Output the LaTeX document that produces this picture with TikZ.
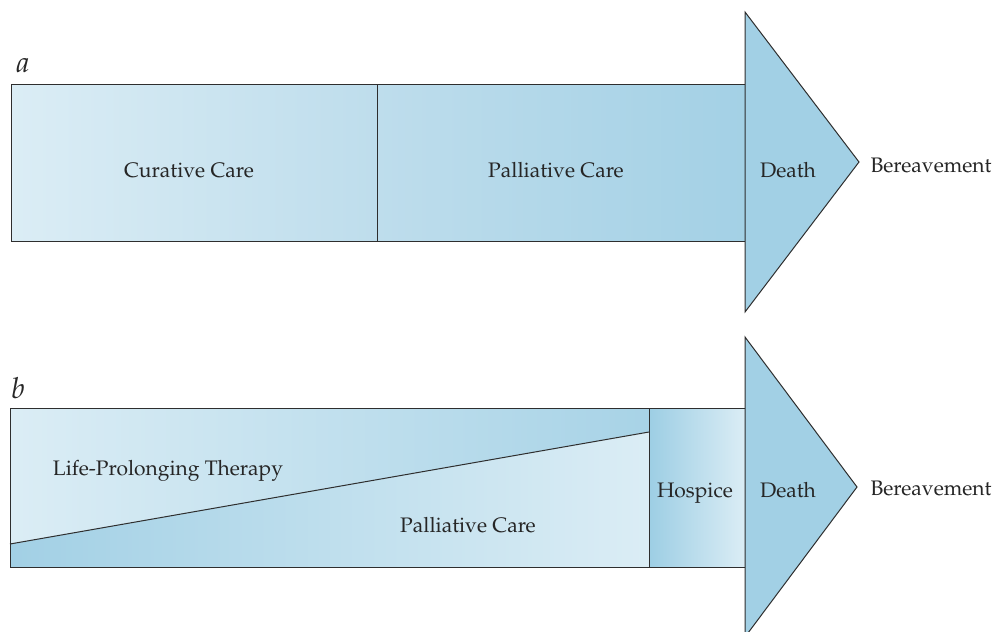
\documentclass[tikz,border=0pt]{standalone}
\usepackage[T1]{fontenc}
\usepackage{mathpazo}
\definecolor{edge}{HTML}{2E2E2E}
\definecolor{paleblue}{HTML}{DBEDF5}
\definecolor{midblue}{HTML}{BEDDEC}
\definecolor{deepblue}{HTML}{A2D0E5}
\definecolor{hospdark}{HTML}{9DCEE4}
\tikzset{
  outline/.style={draw=edge, line width=1pt, line join=miter},
  label/.style={font=\fontsize{21}{25}\selectfont, text=black!85, anchor=base, inner sep=0pt},
  panel/.style={font=\fontsize{29}{33}\selectfont\itshape, text=black!85, anchor=base, inner sep=0pt}
}
\begin{document}
\begin{tikzpicture}[x=1pt, y=-1pt]
\useasboundingbox (0,0) rectangle (997,632);

% ---------- a: curative care, then palliative care ----------
\shade[left color=paleblue, right color=midblue] (11,84) rectangle (377,241);
\shade[left color=midblue, right color=deepblue!95!midblue] (377,84) rectangle (745,241);
\draw[outline] (745,84) -- (11,84) -- (11,241) -- (745,241);
\draw[outline] (377,84) -- (377,241);
\fill[deepblue] (745,12) -- (859,162) -- (745,312) -- cycle;
\draw[outline] (745,12) -- (859,162) -- (745,312) -- cycle;

\node[panel] (la) at (23,72) {a};
\node[label] (cur) at (189,177) {Curative Care};
\node[label] (palA) at (556,177) {Palliative Care};
\node[label] (deathA) at (788,177) {Death};
\node[label] (berA) at (931,172) {Bereavement};

% ---------- b: life-prolonging therapy giving way to palliative care ----------
\shade[left color=paleblue, right color=deepblue!90!paleblue] (10,408) -- (649,408) -- (649,432) -- (10,544) -- cycle;
\shade[left color=deepblue, right color=paleblue] (10,544) -- (649,432) -- (649,567) -- (10,567) -- cycle;
\shade[left color=hospdark, right color=paleblue] (649,408) rectangle (745,567);
\draw[outline] (745,408) -- (10,408) -- (10,567) -- (745,567);
\draw[outline] (649,408) -- (649,567);
\draw[outline] (10,544) -- (649,432);
\fill[deepblue] (745,337) -- (857,487) -- (745,637) -- cycle;
\draw[outline] (745,337) -- (857,487) -- (745,637) -- cycle;

\node[panel] (lb) at (18,398) {b};
\node[label] (life) at (168,475) {Life-Prolonging Therapy};
\node[label] (palB) at (468,532) {Palliative Care};
\node[label] (hosp) at (695,497) {Hospice};
\node[label] (deathB) at (788,497) {Death};
\node[label] (berB) at (931,495) {Bereavement};
\end{tikzpicture}
\end{document}
